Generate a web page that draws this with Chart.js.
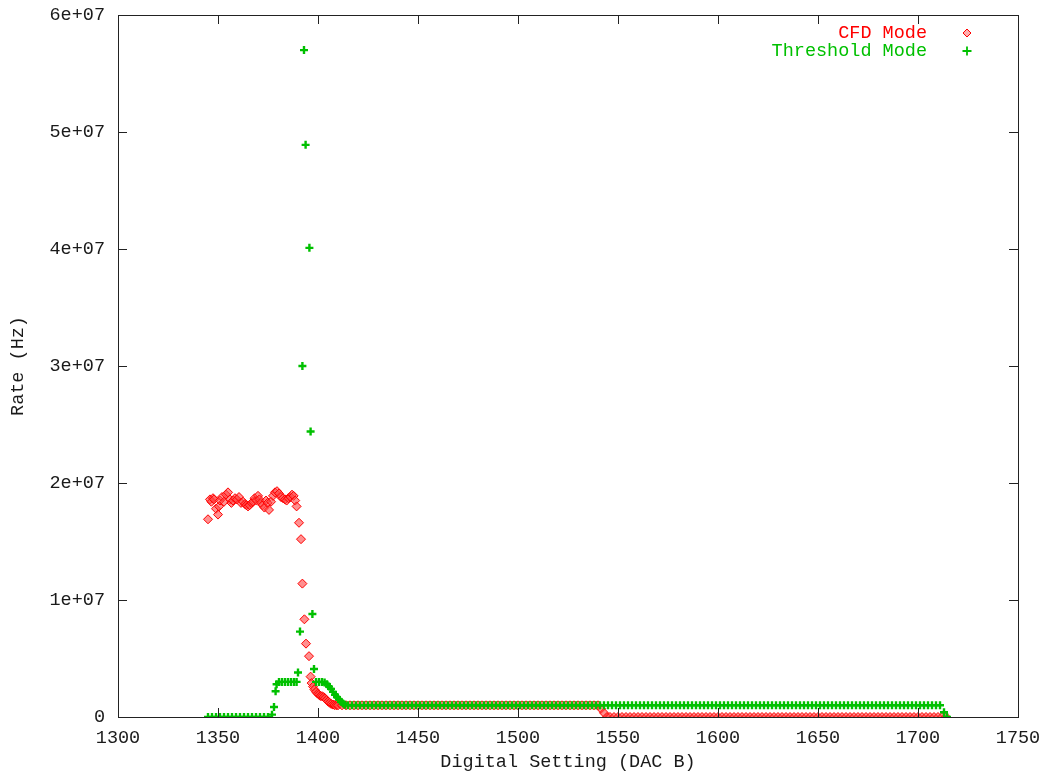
<!DOCTYPE html>
<html>
<head>
<meta charset="utf-8">
<script src="https://cdn.jsdelivr.net/npm/chart.js@4/dist/chart.umd.min.js"></script>
<style>
  html, body { margin: 0; padding: 0; background: #fff; }
  canvas { display: block; }
</style>
</head>
<body>
<canvas id="c" width="1054" height="776"></canvas>
<script>
// ---------- DATA ----------
const seriesNames = ['CFD Mode', 'Threshold Mode'];
const xTickValues = [1300, 1350, 1400, 1450, 1500, 1550, 1600, 1650, 1700, 1750];
const yTickLabels = ['0', '1e+07', '2e+07', '3e+07', '4e+07', '5e+07', '6e+07'];
const xAxisTitle = 'Digital Setting (DAC B)';
const yAxisTitle = 'Rate (Hz)';

// CFD Mode
const cfdX = [
  1345, 1346, 1346.7, 1347.5, 1348, 1349, 1350, 1350.5, 1351, 1352, 1353, 1354, 1355, 1356, 1356.7, 1357.5,
  1358.5, 1359.5, 1360.5, 1361.5, 1362.5, 1363.5, 1364.2, 1365, 1365.8, 1366.8, 1367.5, 1368.3, 1369.2, 1370,
  1370.7, 1371.5, 1372.3, 1373.2, 1374, 1374.8, 1375.5, 1376.5, 1377.5, 1378.5, 1379.5, 1380.5, 1381.5, 1382.5,
  1383.5, 1384.3, 1385.2, 1386.2, 1387, 1387.8, 1388.6, 1389.3, 1390.5, 1391.5, 1392.2, 1393.2, 1394, 1395.5,
  1396.3, 1396.8, 1397.5, 1398.2, 1399, 1399.8, 1400.5, 1401.2, 1402, 1402.8, 1403.5, 1404.3, 1405, 1405.8,
  1406.6, 1407.5, 1408.3, 1409.2,
  1410, 1412, 1414, 1416, 1418, 1420, 1422, 1424, 1426, 1428,
  1430, 1432, 1434, 1436, 1438, 1440, 1442, 1444, 1446, 1448,
  1450, 1452, 1454, 1456, 1458, 1460, 1462, 1464, 1466, 1468,
  1470, 1472, 1474, 1476, 1478, 1480, 1482, 1484, 1486, 1488,
  1490, 1492, 1494, 1496, 1498, 1500, 1502, 1504, 1506, 1508,
  1510, 1512, 1514, 1516, 1518, 1520, 1522, 1524, 1526, 1528,
  1530, 1532, 1534, 1536, 1538, 1540,
  1541.5, 1543, 1544.5,
  1546, 1548, 1550, 1552, 1554, 1556, 1558, 1560, 1562, 1564,
  1566, 1568, 1570, 1572, 1574, 1576, 1578, 1580, 1582, 1584,
  1586, 1588, 1590, 1592, 1594, 1596, 1598, 1600, 1602, 1604,
  1606, 1608, 1610, 1612, 1614, 1616, 1618, 1620, 1622, 1624,
  1626, 1628, 1630, 1632, 1634, 1636, 1638, 1640, 1642, 1644,
  1646, 1648, 1650, 1652, 1654, 1656, 1658, 1660, 1662, 1664,
  1666, 1668, 1670, 1672, 1674, 1676, 1678, 1680, 1682, 1684,
  1686, 1688, 1690, 1692, 1694, 1696, 1698, 1700, 1702, 1704,
  1706, 1708, 1710, 1712, 1714
];
const cfdY = [
  1.69e7, 1.86e7, 1.84e7, 1.87e7, 1.86e7, 1.78e7, 1.73e7, 1.80e7, 1.85e7, 1.88e7, 1.84e7, 1.90e7, 1.92e7, 1.86e7, 1.83e7, 1.85e7,
  1.87e7, 1.86e7, 1.88e7, 1.83e7, 1.84e7, 1.82e7, 1.81e7, 1.80e7, 1.81e7, 1.83e7, 1.84e7, 1.87e7, 1.85e7, 1.89e7,
  1.86e7, 1.83e7, 1.81e7, 1.79e7, 1.85e7, 1.83e7, 1.77e7, 1.84e7, 1.89e7, 1.92e7, 1.93e7, 1.91e7, 1.88e7, 1.87e7,
  1.86e7, 1.85e7, 1.87e7, 1.88e7, 1.90e7, 1.89e7, 1.85e7, 1.80e7, 1.66e7, 1.52e7, 1.14e7, 8.35e6, 6.27e6, 5.2e6,
  3.45e6, 2.9e6, 2.6e6, 2.35e6, 2.15e6, 2.0e6, 1.9e6, 1.8e6, 1.78e6, 1.7e6, 1.6e6, 1.45e6, 1.32e6, 1.22e6,
  1.12e6, 1.06e6, 1.02e6, 1.0e6,
  1e6, 1e6, 1e6, 1e6, 1e6, 1e6, 1e6, 1e6, 1e6, 1e6,
  1e6, 1e6, 1e6, 1e6, 1e6, 1e6, 1e6, 1e6, 1e6, 1e6,
  1e6, 1e6, 1e6, 1e6, 1e6, 1e6, 1e6, 1e6, 1e6, 1e6,
  1e6, 1e6, 1e6, 1e6, 1e6, 1e6, 1e6, 1e6, 1e6, 1e6,
  1e6, 1e6, 1e6, 1e6, 1e6, 1e6, 1e6, 1e6, 1e6, 1e6,
  1e6, 1e6, 1e6, 1e6, 1e6, 1e6, 1e6, 1e6, 1e6, 1e6,
  1e6, 1e6, 1e6, 1e6, 1e6, 1e6,
  7e5, 3.5e5, 0,
  0, 0, 0, 0, 0, 0, 0, 0, 0, 0,
  0, 0, 0, 0, 0, 0, 0, 0, 0, 0,
  0, 0, 0, 0, 0, 0, 0, 0, 0, 0,
  0, 0, 0, 0, 0, 0, 0, 0, 0, 0,
  0, 0, 0, 0, 0, 0, 0, 0, 0, 0,
  0, 0, 0, 0, 0, 0, 0, 0, 0, 0,
  0, 0, 0, 0, 0, 0, 0, 0, 0, 0,
  0, 0, 0, 0, 0, 0, 0, 0, 0, 0,
  0, 0, 0, 0, 0
];

// Threshold Mode
const thrX = [
  1345, 1347, 1349, 1351, 1353, 1355, 1357, 1359, 1361, 1363,
  1365, 1367, 1369, 1371, 1373, 1375,
  1377, 1378, 1378.8, 1379.3, 1380.5, 1382, 1383.5, 1385, 1386.5, 1388, 1389.3,
  1390, 1391, 1392.2, 1393, 1393.8, 1395.7, 1396.3, 1397.2, 1398,
  1399, 1400.5, 1402, 1403.3, 1404.5, 1405.5, 1406.5, 1407.5, 1408.5, 1409.5, 1410.5, 1411.5, 1412.5, 1413.5,
  1415, 1417, 1419, 1421, 1423, 1425, 1427, 1429, 1431, 1433,
  1435, 1437, 1439, 1441, 1443, 1445, 1447, 1449, 1451, 1453,
  1455, 1457, 1459, 1461, 1463, 1465, 1467, 1469, 1471, 1473,
  1475, 1477, 1479, 1481, 1483, 1485, 1487, 1489, 1491, 1493,
  1495, 1497, 1499, 1501, 1503, 1505, 1507, 1509, 1511, 1513,
  1515, 1517, 1519, 1521, 1523, 1525, 1527, 1529, 1531, 1533,
  1535, 1537, 1539, 1541, 1543, 1545, 1547, 1549, 1551, 1553,
  1555, 1557, 1559, 1561, 1563, 1565, 1567, 1569, 1571, 1573,
  1575, 1577, 1579, 1581, 1583, 1585, 1587, 1589, 1591, 1593,
  1595, 1597, 1599, 1601, 1603, 1605, 1607, 1609, 1611, 1613,
  1615, 1617, 1619, 1621, 1623, 1625, 1627, 1629, 1631, 1633,
  1635, 1637, 1639, 1641, 1643, 1645, 1647, 1649, 1651, 1653,
  1655, 1657, 1659, 1661, 1663, 1665, 1667, 1669, 1671, 1673,
  1675, 1677, 1679, 1681, 1683, 1685, 1687, 1689, 1691, 1693,
  1695, 1697, 1699, 1701, 1703, 1705, 1707, 1709, 1711,
  1713, 1714.5
];
const thrY = [
  0, 0, 0, 0, 0, 0, 0, 0, 0, 0,
  0, 0, 0, 0, 0, 0,
  2e5, 8.5e5, 2.2e6, 2.8e6, 3.0e6, 3.0e6, 3.0e6, 3.0e6, 3.0e6, 3.0e6, 3.0e6,
  3.8e6, 7.3e6, 3.0e7, 5.7e7, 4.89e7, 4.01e7, 2.44e7, 8.8e6, 4.1e6,
  3.0e6, 3.0e6, 3.0e6, 2.95e6, 2.8e6, 2.6e6, 2.4e6, 2.15e6, 1.9e6, 1.7e6, 1.5e6, 1.3e6, 1.15e6, 1.05e6,
  1e6, 1e6, 1e6, 1e6, 1e6, 1e6, 1e6, 1e6, 1e6, 1e6,
  1e6, 1e6, 1e6, 1e6, 1e6, 1e6, 1e6, 1e6, 1e6, 1e6,
  1e6, 1e6, 1e6, 1e6, 1e6, 1e6, 1e6, 1e6, 1e6, 1e6,
  1e6, 1e6, 1e6, 1e6, 1e6, 1e6, 1e6, 1e6, 1e6, 1e6,
  1e6, 1e6, 1e6, 1e6, 1e6, 1e6, 1e6, 1e6, 1e6, 1e6,
  1e6, 1e6, 1e6, 1e6, 1e6, 1e6, 1e6, 1e6, 1e6, 1e6,
  1e6, 1e6, 1e6, 1e6, 1e6, 1e6, 1e6, 1e6, 1e6, 1e6,
  1e6, 1e6, 1e6, 1e6, 1e6, 1e6, 1e6, 1e6, 1e6, 1e6,
  1e6, 1e6, 1e6, 1e6, 1e6, 1e6, 1e6, 1e6, 1e6, 1e6,
  1e6, 1e6, 1e6, 1e6, 1e6, 1e6, 1e6, 1e6, 1e6, 1e6,
  1e6, 1e6, 1e6, 1e6, 1e6, 1e6, 1e6, 1e6, 1e6, 1e6,
  1e6, 1e6, 1e6, 1e6, 1e6, 1e6, 1e6, 1e6, 1e6, 1e6,
  1e6, 1e6, 1e6, 1e6, 1e6, 1e6, 1e6, 1e6, 1e6, 1e6,
  1e6, 1e6, 1e6, 1e6, 1e6, 1e6, 1e6, 1e6, 1e6, 1e6,
  1e6, 1e6, 1e6, 1e6, 1e6, 1e6, 1e6, 1e6, 1e6,
  4e5, 0
];

// ---------- STYLE ----------
const FONT_FAMILY = '"Liberation Mono", "DejaVu Sans Mono", monospace';
const FONT_SIZE = 18.5;
const TEXT_COLOR = '#1a1a1a';
const RED = '#ff0000';
const GREEN = '#00c000';

const toPoints = (xs, ys) => xs.map((x, i) => ({ x: x, y: ys[i] }));

const pointStyles = [
  { pointStyle: 'rectRot', radius: 4.5, borderWidth: 1, borderColor: RED, backgroundColor: 'rgba(255,70,70,0.6)' },
  { pointStyle: 'cross', radius: 4, borderWidth: 2.4, borderColor: GREEN, backgroundColor: GREEN }
];
const legendStyles = [
  { pointStyle: 'rectRot', radius: 4, borderWidth: 1, borderColor: RED, backgroundColor: 'rgba(255,110,110,0.55)' },
  { pointStyle: 'cross', radius: 4.5, borderWidth: 1.8, borderColor: GREEN, backgroundColor: GREEN }
];

// Frame with inward mirrored ticks (gnuplot style)
const framePlugin = {
  id: 'frame',
  afterDatasetsDraw(chart) {
    const { ctx, chartArea: a, scales } = chart;
    const tl = 9;
    ctx.save();
    ctx.strokeStyle = '#222';
    ctx.lineWidth = 1;
    ctx.beginPath();
    scales.x.ticks.forEach(t => {
      const px = Math.round(scales.x.getPixelForValue(t.value)) + 0.5;
      ctx.moveTo(px, a.bottom); ctx.lineTo(px, a.bottom - tl);
      ctx.moveTo(px, a.top); ctx.lineTo(px, a.top + tl);
    });
    scales.y.ticks.forEach(t => {
      const py = Math.round(scales.y.getPixelForValue(t.value)) + 0.5;
      ctx.moveTo(a.left, py); ctx.lineTo(a.left + tl, py);
      ctx.moveTo(a.right, py); ctx.lineTo(a.right - tl, py);
    });
    ctx.stroke();
    ctx.strokeRect(Math.round(a.left) + 0.5, Math.round(a.top) + 0.5,
                   Math.round(a.right - a.left), Math.round(a.bottom - a.top));
    ctx.restore();
  }
};

// gnuplot-like key in the top right corner
const keyPlugin = {
  id: 'key',
  afterDraw(chart) {
    const { ctx, chartArea: a } = chart;
    ctx.save();
    ctx.font = FONT_SIZE + 'px ' + FONT_FAMILY;
    ctx.textAlign = 'right';
    ctx.textBaseline = 'middle';
    const textRight = a.right - 91;
    const markX = a.right - 51;
    const rows = [a.top + 18, a.top + 36];
    chart.data.datasets.forEach((ds, i) => {
      ctx.fillStyle = ds.borderColor;
      ctx.fillText(ds.label, textRight, rows[i]);
      const ps = legendStyles[i];
      ctx.strokeStyle = ps.borderColor;
      ctx.fillStyle = ps.backgroundColor;
      ctx.lineWidth = ps.borderWidth;
      Chart.helpers.drawPoint(ctx, { pointStyle: ps.pointStyle, radius: ps.radius, borderWidth: ps.borderWidth, rotation: 0 }, markX, rows[i]);
    });
    ctx.restore();
  }
};

const datasets = [
  {
    label: seriesNames[0],
    data: toPoints(cfdX, cfdY),
    borderColor: RED,
    backgroundColor: pointStyles[0].backgroundColor,
    pointStyle: pointStyles[0].pointStyle,
    pointRadius: pointStyles[0].radius,
    pointBorderWidth: pointStyles[0].borderWidth,
    showLine: false,
    order: 2
  },
  {
    label: seriesNames[1],
    data: toPoints(thrX, thrY),
    borderColor: GREEN,
    backgroundColor: GREEN,
    pointStyle: pointStyles[1].pointStyle,
    pointRadius: pointStyles[1].radius,
    pointBorderWidth: pointStyles[1].borderWidth,
    showLine: false,
    order: 1
  }
];

new Chart(document.getElementById('c'), {
  type: 'scatter',
  data: { datasets },
  plugins: [framePlugin, keyPlugin],
  options: {
    responsive: false,
    devicePixelRatio: 1,
    animation: false,
    events: [],
    layout: { padding: { left: 0, top: 15, right: 36, bottom: 0 } },
    plugins: { legend: { display: false }, tooltip: { enabled: false } },
    scales: {
      x: {
        type: 'linear',
        min: xTickValues[0],
        max: xTickValues[xTickValues.length - 1],
        afterFit(scale) { scale.height = 59; scale.paddingLeft = 0; scale.paddingRight = 0; },
        afterBuildTicks(scale) { scale.ticks = xTickValues.map(v => ({ value: v })); },
        grid: { display: false, drawTicks: false },
        border: { display: false },
        ticks: {
          padding: 10,
          color: TEXT_COLOR,
          font: { family: FONT_FAMILY, size: FONT_SIZE },
          maxRotation: 0,
          autoSkip: false,
          callback: (v) => String(v)
        },
        title: {
          display: true,
          text: xAxisTitle,
          color: TEXT_COLOR,
          font: { family: FONT_FAMILY, size: FONT_SIZE },
          padding: { top: 0, bottom: 3 }
        }
      },
      y: {
        type: 'linear',
        min: 0,
        max: 6e7,
        afterFit(scale) { scale.width = 118; scale.paddingTop = 0; scale.paddingBottom = 0; },
        afterBuildTicks(scale) { scale.ticks = yTickLabels.map((_, i) => ({ value: i * 1e7 })); },
        grid: { display: false, drawTicks: false },
        border: { display: false },
        ticks: {
          padding: 13,
          color: TEXT_COLOR,
          font: { family: FONT_FAMILY, size: FONT_SIZE },
          autoSkip: false,
          callback: (v, i) => yTickLabels[i]
        },
        title: {
          display: true,
          text: yAxisTitle,
          color: TEXT_COLOR,
          font: { family: FONT_FAMILY, size: FONT_SIZE },
          padding: { top: 7, bottom: 0 }
        }
      }
    }
  }
});
</script>
</body>
</html>
